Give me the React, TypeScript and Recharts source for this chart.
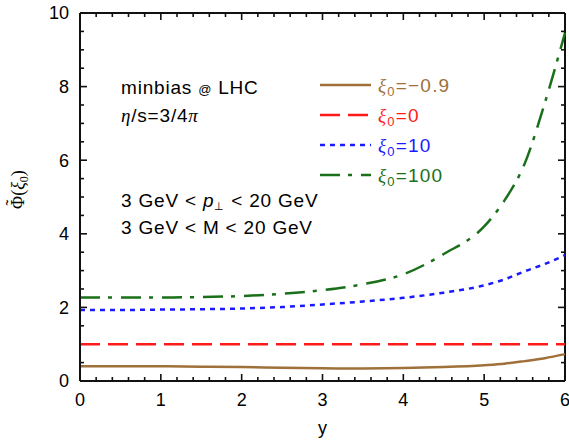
import { LineChart, Line, XAxis, YAxis, ReferenceLine } from "recharts";

// rapidity grid and the four curves
const rapidity = [0, 0.5, 1, 1.5, 2, 2.5, 3, 3.5, 4, 4.5, 5, 5.25, 5.5, 5.75, 6];
const phiXiMinus09 = [0.4, 0.4, 0.4, 0.39, 0.38, 0.36, 0.345, 0.34, 0.35, 0.38, 0.43, 0.47, 0.54, 0.62, 0.73];
const phiXi0 = [1, 1, 1, 1, 1, 1, 1, 1, 1, 1, 1, 1, 1, 1, 1];
const phiXi10 = [1.93, 1.93, 1.94, 1.95, 1.97, 2.01, 2.08, 2.16, 2.26, 2.4, 2.6, 2.76, 2.98, 3.18, 3.42];
const phiXi100 = [2.27, 2.27, 2.27, 2.28, 2.31, 2.37, 2.47, 2.63, 2.9, 3.45, 4.2, 4.9, 5.9, 7.55, 9.46];

const xTicks = [0, 1, 2, 3, 4, 5, 6];
const yTicks = [0, 2, 4, 6, 8, 10];
// frame ticks (Mathematica style, pointing inward on all four sides)
const xFrameTicks = Array.from({ length: 31 }, (_, i) => +(i * 0.2).toFixed(1));
const yFrameTicks = Array.from({ length: 21 }, (_, i) => i * 0.5);

const series = [
  { key: "m09", label: "\u22120.9", color: "#a0703a", dash: undefined, values: phiXiMinus09 },
  { key: "z0", label: "0", color: "#ff1a1a", dash: "20 8", values: phiXi0 },
  { key: "x10", label: "10", color: "#1a1aff", dash: "5 5", values: phiXi10 },
  { key: "x100", label: "100", color: "#1a701a", dash: "20 8 4 9", values: phiXi100 },
];

const data = rapidity.map((y, i) => {
  const row: Record<string, number> = { y };
  series.forEach((s) => (row[s.key] = s.values[i]));
  return row;
});

const W = 569;
const H = 445;
const X_MAX = 6;
const Y_MAX = 10;
const sans = "'Liberation Sans', Arial, Helvetica, sans-serif";
const serif = "'Liberation Serif', 'Times New Roman', serif";
const frame = "#111111";

// tick lengths in data units (plot box is ~485 x 368 px)
const PX_X = X_MAX / 485;
const PX_Y = Y_MAX / 368;
const isInt = (v: number) => Math.abs(v - Math.round(v)) < 1e-6;
const isEven = (v: number) => isInt(v) && Math.round(v) % 2 === 0;

function Overlay() {
  return (
    <svg width={W} height={H} style={{ position: "absolute", left: 0, top: 0, pointerEvents: "none" }}>
      {/* y axis title, Φ with a tilde */}
      <g transform="translate(24,192) rotate(-90)" fontFamily={serif} fontSize={18} fill="#000">
        <text x={-17} y={0}>
          {"\u03A6("}
          <tspan fontStyle="italic">{"\u03BE"}</tspan>
          <tspan fontSize={12} dy={4}>0</tspan>
          <tspan dy={-4}>)</tspan>
        </text>
        <text x={-10.5} y={-5} textAnchor="middle" fontSize={18}>
          {"\u02DC"}
        </text>
      </g>

      {/* annotations */}
      <g fontFamily={sans} fontSize={19} letterSpacing={0.8} fill="#000">
        <text x={121} y={94}>
          minbias <tspan fontSize={13}>@</tspan> LHC
        </text>
        <text x={121} y={122}>
          <tspan fontFamily={serif} fontStyle="italic">{"\u03B7"}</tspan>/s=3/4
          <tspan fontFamily={serif} fontStyle="italic">{"\u03C0"}</tspan>
        </text>
        <text x={121} y={207}>
          {"3 GeV < "}
          <tspan fontStyle="italic">p</tspan>
          <tspan fontSize={11} dy={3}>{"\u22A5"}</tspan>
          <tspan dy={-3}>{" < 20 GeV"}</tspan>
        </text>
        <text x={121} y={234}>
          {"3 GeV < M < 20 GeV"}
        </text>
      </g>

      {/* legend */}
      {series.map((s, i) => {
        const cy = 85 + i * 30;
        return (
          <g key={s.key}>
            <line x1={320} x2={371} y1={cy} y2={cy} stroke={s.color} strokeWidth={2.5} strokeDasharray={s.dash} />
            <text x={378} y={cy + 7} fill={s.color} fontFamily={sans} fontSize={19} letterSpacing={1.2}>
              <tspan fontFamily={serif} fontStyle="italic">{"\u03BE"}</tspan>
              <tspan fontSize={13} dy={4}>0</tspan>
              <tspan dy={-4}>={s.label}</tspan>
            </text>
          </g>
        );
      })}
    </svg>
  );
}

export default function App() {
  const edge = { stroke: frame, strokeWidth: 2, ifOverflow: "visible" as const };
  const tick = { stroke: frame, strokeWidth: 1.6, ifOverflow: "visible" as const };
  return (
    <div style={{ position: "absolute", left: 0, top: 0, width: W, height: H, background: "#fff" }}>
      <LineChart width={W} height={H} data={data} margin={{ top: 13, right: 4, left: 0, bottom: 0 }}>
        <XAxis
          dataKey="y"
          type="number"
          domain={[0, X_MAX]}
          ticks={xTicks}
          interval={0}
          height={64}
          tickLine={false}
          tickSize={0}
          tickMargin={12}
          tick={{ fontSize: 18, fill: "#000", fontFamily: sans }}
          axisLine={{ stroke: frame, strokeWidth: 2 }}
          label={{ value: "y", position: "insideBottom", offset: 11, fontSize: 18, fill: "#000", fontFamily: sans }}
        />
        <YAxis
          type="number"
          domain={[0, Y_MAX]}
          ticks={yTicks}
          interval={0}
          width={80}
          tickLine={false}
          tickSize={0}
          tickMargin={11}
          tick={{ fontSize: 18, fill: "#000", fontFamily: sans }}
          axisLine={{ stroke: frame, strokeWidth: 2 }}
        />

        {/* top and right sides of the frame */}
        <ReferenceLine y={Y_MAX} {...edge} />
        <ReferenceLine x={X_MAX} {...edge} />

        {xFrameTicks.map((t) => {
          const len = (isInt(t) ? 7 : 4) * PX_Y;
          return [
            <ReferenceLine key={`b${t}`} segment={[{ x: t, y: 0 }, { x: t, y: len }]} {...tick} />,
            <ReferenceLine key={`t${t}`} segment={[{ x: t, y: Y_MAX }, { x: t, y: Y_MAX - len }]} {...tick} />,
          ];
        })}
        {yFrameTicks.map((t) => {
          const len = (isEven(t) ? 7 : 4) * PX_X;
          return [
            <ReferenceLine key={`l${t}`} segment={[{ x: 0, y: t }, { x: len, y: t }]} {...tick} />,
            <ReferenceLine key={`r${t}`} segment={[{ x: X_MAX, y: t }, { x: X_MAX - len, y: t }]} {...tick} />,
          ];
        })}

        {series.map((s) => (
          <Line
            key={s.key}
            dataKey={s.key}
            type="monotone"
            stroke={s.color}
            strokeWidth={2.5}
            strokeDasharray={s.dash}
            dot={false}
            activeDot={false}
            isAnimationActive={false}
          />
        ))}
      </LineChart>
      <Overlay />
    </div>
  );
}
